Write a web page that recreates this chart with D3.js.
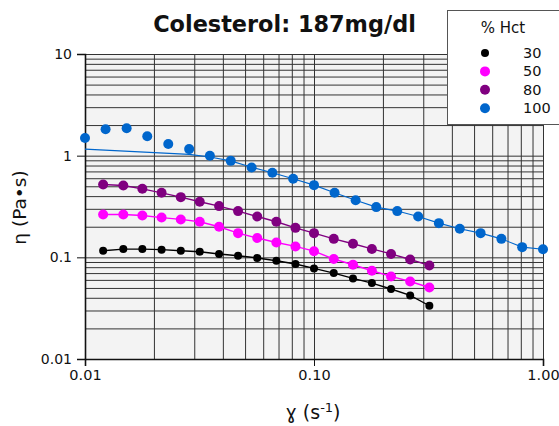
<!DOCTYPE html>
<html>
<head>
<meta charset="utf-8">
<script src="https://cdn.jsdelivr.net/npm/d3@7"></script>
<style>
  body { margin: 0; background: #fff; }
  text { font-family: "DejaVu Sans", sans-serif; fill: #111; }
  .grid line { stroke: #333; stroke-width: 1; }
  .grid path { display: none; }
  .axis path, .axis line { stroke: #111; }
</style>
</head>
<body>
<svg id="chart"></svg>
<script>
// board size
var svg_w = 559, svg_h = 426;
var pad_left = 85, pad_right = 16, pad_top = 54, pad_bottom = 67;

// chart text
var title = "Colesterol: 187mg/dl";
var legend_title = "% Hct";
var series_names = ["30", "50", "80", "100"];
var series_colors = ["#000000", "#ff00ff", "#800080", "#0066cc"];

// axis ticks
var x_ticks = [0.01, 0.1, 1];
var x_tick_labels = ["0.01", "0.10", "1.00"];
var y_ticks = [0.01, 0.1, 1, 10];
var y_tick_labels = ["0.01", "0.1", "1", "10"];

// shear rate (s-1) for 30, 50, 80 % Hct
var shear_a = [0.012, 0.0147, 0.0178, 0.0216, 0.0262, 0.0317, 0.0385, 0.0466, 0.0565,
  0.0685, 0.083, 0.1, 0.122, 0.148, 0.179, 0.217, 0.263, 0.319];
// viscosity (Pa.s)
var hct30 = [0.116, 0.1205, 0.1205, 0.119, 0.116, 0.1135, 0.108, 0.1036, 0.0986,
  0.0925, 0.0859, 0.0778, 0.0700, 0.0620, 0.0558, 0.0488, 0.0422, 0.0334];
var hct50 = [0.264, 0.264, 0.258, 0.246, 0.236, 0.224, 0.200, 0.173, 0.155,
  0.140, 0.128, 0.115, 0.0962, 0.0845, 0.0738, 0.0649, 0.0579, 0.0505];
var hct80 = [0.520, 0.508, 0.472, 0.431, 0.391, 0.352, 0.319, 0.285, 0.252,
  0.224, 0.195, 0.173, 0.152, 0.136, 0.121, 0.108, 0.0953, 0.0832];

// shear rate for 100 % Hct
var shear_b = [0.01, 0.0123, 0.0152, 0.0187, 0.0231, 0.0285, 0.0351, 0.0433, 0.0534,
  0.0658, 0.0811, 0.1, 0.123, 0.152, 0.187, 0.231, 0.285, 0.351, 0.433, 0.534,
  0.658, 0.811, 1.0];
var hct100 = [1.49, 1.82, 1.86, 1.55, 1.30, 1.16, 1.00, 0.889, 0.764,
  0.678, 0.592, 0.513, 0.431, 0.365, 0.312, 0.285, 0.252, 0.217, 0.191, 0.173,
  0.152, 0.126, 0.120];

// fitted curve for 100 % Hct
var fit_x = [0.01, 0.0285, 0.0351, 0.0433, 0.0534, 0.0658, 0.0811, 0.1, 0.123, 0.152,
  0.187, 0.231, 0.285, 0.351, 0.433, 0.534, 0.658, 0.811, 1.0];
var fit_y = [1.16, 1.03, 0.972, 0.889, 0.770, 0.678, 0.592, 0.513, 0.431, 0.365,
  0.312, 0.285, 0.252, 0.217, 0.191, 0.173, 0.152, 0.126, 0.120];

var svg = d3.select("#chart").attr("width", svg_w).attr("height", svg_h);

var x_scale = d3.scaleLog().domain([0.01, 1]).range([pad_left, svg_w - pad_right]);
var y_scale = d3.scaleLog().domain([0.01, 10]).range([svg_h - pad_bottom, pad_top]);

// plot background
svg.append("rect")
  .attr("x", x_scale(0.01)).attr("y", y_scale(10))
  .attr("width", x_scale(1) - x_scale(0.01))
  .attr("height", y_scale(0.01) - y_scale(10))
  .attr("fill", "#f3f3f3");

// grid lines (1..9 in every decade)
svg.append("g").attr("class", "grid")
  .attr("transform", "translate(0," + y_scale(0.01) + ")")
  .call(d3.axisBottom(x_scale).tickSize(-(y_scale(0.01) - y_scale(10))).tickFormat(""));
svg.append("g").attr("class", "grid")
  .attr("transform", "translate(" + x_scale(0.01) + ",0)")
  .call(d3.axisLeft(y_scale).tickSize(-(x_scale(1) - x_scale(0.01))).tickFormat(""));

// axes
var x_axis = d3.axisBottom(x_scale).tickValues(x_ticks).tickSize(7).tickPadding(4)
  .tickFormat(function(d, i){ return x_tick_labels[i]; });
var gx = svg.append("g").attr("class", "axis")
  .attr("transform", "translate(0," + y_scale(0.01) + ")").call(x_axis);
gx.selectAll("text").attr("font-size", "14.5px").style("fill", "#111");
gx.select("path").attr("stroke-width", 1.6);

var y_axis = d3.axisLeft(y_scale).tickValues(y_ticks).tickSize(8).tickPadding(5)
  .tickFormat(function(d, i){ return y_tick_labels[i]; });
var gy = svg.append("g").attr("class", "axis")
  .attr("transform", "translate(" + x_scale(0.01) + ",0)").call(y_axis);
gy.selectAll("text").attr("font-size", "14px").style("fill", "#111");
gy.select("path").attr("stroke-width", 1.6);

// series
var series = [
  {x: shear_a, y: hct30, r: 4},
  {x: shear_a, y: hct50, r: 5},
  {x: shear_a, y: hct80, r: 5},
  {x: shear_b, y: hct100, r: 5}
];
var line = d3.line()
  .x(function(d){ return x_scale(d[0]); })
  .y(function(d){ return y_scale(d[1]); });

// fitted curve for 100
svg.append("path")
  .datum(d3.zip(fit_x, fit_y))
  .attr("d", line).attr("fill", "none")
  .attr("stroke", series_colors[3]).attr("stroke-width", 1.1);

series.forEach(function(s, i){
  var pts = d3.zip(s.x, s.y);
  if(i < 3){
    svg.append("path").datum(pts).attr("d", line)
      .attr("fill", "none").attr("stroke", series_colors[i]).attr("stroke-width", 1.4);
  }
  svg.append("g").selectAll("circle").data(pts).enter()
    .append("circle")
    .attr("cx", function(d){ return x_scale(d[0]); })
    .attr("cy", function(d){ return y_scale(d[1]); })
    .attr("r", s.r)
    .attr("fill", series_colors[i]);
});

// title
svg.append("text").attr("x", 284.5).attr("y", 32)
  .attr("text-anchor", "middle").attr("font-size", "22.4px")
  .attr("font-weight", "bold").text(title);

// axis titles
var xl = svg.append("text").attr("x", 313).attr("y", 419)
  .attr("text-anchor", "middle").attr("font-size", "19px");
xl.append("tspan").text("\u0263 (s");
xl.append("tspan").attr("dy", -7).attr("font-size", "13px").text("-1");
xl.append("tspan").attr("dy", 7).text(")");

svg.append("text")
  .attr("transform", "translate(26,207.5) rotate(-90)")
  .attr("text-anchor", "middle").attr("font-size", "18.5px")
  .text("\u03b7 (Pa\u2022s)");

// legend
var lg = svg.append("g").attr("transform", "translate(447.5,10.5)");
lg.append("rect").attr("width", 120).attr("height", 114)
  .attr("fill", "#fff").attr("stroke", "#555").attr("stroke-width", 1);
lg.append("text").attr("x", 55.5).attr("y", 22).attr("text-anchor", "middle")
  .attr("font-size", "15px").text(legend_title);
series_names.forEach(function(name, i){
  var yy = 42.5 + i * 18.4;
  lg.append("circle").attr("cx", 37.5).attr("cy", yy)
    .attr("r", i == 0 ? 4 : 5).attr("fill", series_colors[i]);
  lg.append("text").attr("x", 75.5).attr("y", yy + 5)
    .attr("font-size", "14.5px").text(name);
});
</script>
</body>
</html>
